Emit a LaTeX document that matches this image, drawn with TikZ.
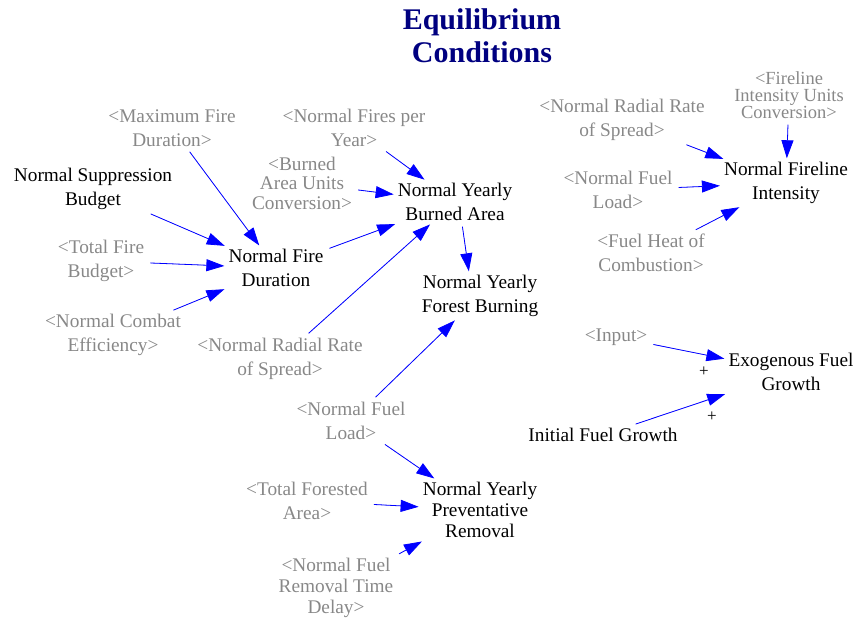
\documentclass[tikz,border=0pt]{standalone}
\usepackage{fontspec}
\setmainfont{Liberation Serif}
\newfontfamily\diagfont{Liberation Serif}
\usetikzlibrary{arrows.meta}
\definecolor{linkblue}{RGB}{0,0,255}
\definecolor{shadowgray}{RGB}{136,136,136}
\definecolor{titlenavy}{RGB}{0,0,128}

\begin{document}
\begin{tikzpicture}[
  x=1pt, y=-1pt,
  var/.style={align=center, inner sep=3pt, font=\diagfont\fontsize{19.3}{23.5}\selectfont},
  ghost/.style={var, text=shadowgray},
  heading/.style={align=center, text=titlenavy, font=\diagfont\fontsize{30}{33}\selectfont\bfseries},
  link/.style={-{Triangle[length=18pt,width=12pt]}, draw=linkblue, fill=linkblue, line width=0.8pt, shorten <=3pt, shorten >=1pt},
  sign/.style={font=\diagfont\fontsize{17}{17}\selectfont, inner sep=0pt}
]
  \useasboundingbox (0,0) rectangle (857,621);

  \node[heading] (title) at (482,36) {Equilibrium\\Conditions};

  % Variables
  \node[var] (NSB) at (93,189) {Normal Suppression\\Budget};
  \node[var] (NFD) at (276,268) {Normal Fire\\Duration};
  \node[var] (NYBA) at (455,202) {Normal Yearly\\Burned Area};
  \node[var] (NYFB) at (480,296) {Normal Yearly\\Forest Burning};
  \node[var, font=\diagfont\fontsize{19.3}{21}\selectfont] (NYPR) at (480,510) {Normal Yearly\\Preventative\\Removal};
  \node[var] (NFI) at (786,183) {Normal Fireline\\Intensity};
  \node[var] (EFG) at (791,372) {Exogenous Fuel\\Growth};
  \node[var] (IFG) at (603,435) {Initial Fuel Growth};

  % Shadow variables
  \node[ghost] (MFD) at (172,128) {<Maximum Fire\\Duration>};
  \node[ghost] (NFPY) at (354,128) {<Normal Fires per\\Year>};
  \node[ghost, font=\diagfont\fontsize{19.3}{19.5}\selectfont] (BAUC) at (302,183) {<Burned\\Area Units\\Conversion>};
  \node[ghost] (TFB) at (101,261) {<Total Fire\\Budget>};
  \node[ghost] (NCE) at (113,335) {<Normal Combat\\Efficiency>};
  \node[ghost] (NRRSa) at (280,359) {<Normal Radial Rate\\of Spread>};
  \node[ghost] (NFLa) at (351,421) {<Normal Fuel\\Load>};
  \node[ghost] (TFA) at (307,501) {<Total Forested\\Area>};
  \node[ghost, font=\diagfont\fontsize{19.3}{21}\selectfont] (NFRTD) at (336,588) {<Normal Fuel\\Removal Time\\Delay>};
  \node[ghost] (NRRSb) at (622,120) {<Normal Radial Rate\\of Spread>};
  \node[ghost, font=\diagfont\fontsize{18.5}{17}\selectfont] (FIUC) at (789,95) {<Fireline\\Intensity Units\\Conversion>};
  \node[ghost] (NFLb) at (618,190) {<Normal Fuel\\Load>};
  \node[ghost] (FHC) at (651,253) {<Fuel Heat of\\Combustion>};
  \node[ghost] (INP) at (616,337) {<Input>};

  % Polarity signs
  \node[sign] (plusa) at (704,372) {+};
  \node[sign] (plusb) at (712,417) {+};

  % Links
  \draw[link] (NSB) -- (NFD);
  \draw[link] (MFD) -- (NFD);
  \draw[link] (TFB) -- (NFD);
  \draw[link] (NCE) -- (NFD);
  \draw[link] (NFD) -- (NYBA);
  \draw[link] (NFPY) -- (NYBA);
  \draw[link] (BAUC) -- (NYBA);
  \draw[link] (NRRSa) -- (NYBA);
  \draw[link] ([xshift=7pt]NYBA.south) -- ([xshift=-11pt]NYFB.north);
  \draw[link] (NFLa) -- (NYFB);
  \draw[link] (NFLa) -- (NYPR);
  \draw[link] (TFA) -- (NYPR);
  \draw[link] (NFRTD) -- (NYPR);
  \draw[link] (NRRSb) -- (NFI);
  \draw[link] (NFLb) -- (NFI);
  \draw[link] (FHC) -- (NFI);
  \draw[link] (FIUC) -- (NFI);
  \draw[link] (INP) -- (EFG);
  \draw[link] (IFG) -- (EFG);
\end{tikzpicture}
\end{document}
